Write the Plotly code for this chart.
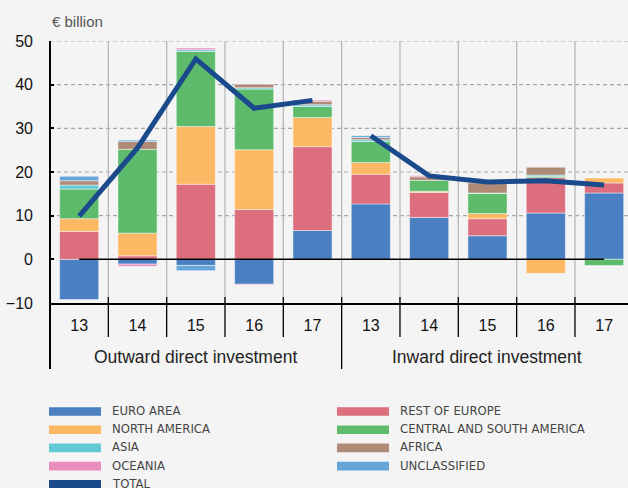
import plotly.graph_objects as go

# ---- data (€ billion) ----
years = ["13", "14", "15", "16", "17", "13", "14", "15", "16", "17"]
groups = ["Outward direct investment", "Inward direct investment"]

euro_area = [-9.2, -1.1, -1.4, -5.7, 6.6, 12.7, 9.6, 5.4, 10.6, 15.2]
rest_of_europe = [6.4, 0.8, 17.2, 11.4, 19.2, 6.8, 5.7, 3.9, 8.1, 2.3]
north_america = [2.9, 5.2, 13.2, 13.7, 6.7, 2.7, 0.3, 1.2, -3.2, 1.1]
central_south_america = [6.8, 19.2, 17.2, 13.9, 2.5, 4.8, 2.5, 4.6, 0.3, -1.45]
asia = [0.9, 0, 0.4, 0.3, 0.4, 0.4, 0, 0.1, 0.3, 0]
africa = [1.0, 1.8, 0, 0.8, 0.8, 0.5, 0.8, 2.3, 1.8, 0]
oceania = [0, -0.5, 0.4, -0.15, 0.3, 0, 0.3, 0, 0, 0]
unclassified = [1.0, 0.3, -1.2, 0, 0, 0.4, 0, 0, 0, -0.1]
total_outward = [9.9, 25.5, 45.9, 34.6, 36.4]
total_inward = [28.3, 19.1, 17.7, 18.0, 17.0]

series = [
    ("EURO AREA", euro_area, "#4a7fc1"),
    ("REST OF EUROPE", rest_of_europe, "#dc6e7e"),
    ("NORTH AMERICA", north_america, "#fdb863"),
    ("CENTRAL AND SOUTH AMERICA", central_south_america, "#5dbb6b"),
    ("ASIA", asia, "#62c8d6"),
    ("AFRICA", africa, "#ae8a77"),
    ("OCEANIA", oceania, "#e98dbd"),
    ("UNCLASSIFIED", unclassified, "#66a5d8"),
]
total_color = "#1a4a8c"

W, H = 628, 488
L, R, T, B = 50, 0, 41, 185
PW, PH = W - L - R, H - T - B


def px_x(px):
    return (px - L) / PW


def px_y(py):
    return (H - B - py) / PH


xs = list(range(len(years)))
fig = go.Figure()
for name, vals, col in series:
    fig.add_trace(go.Bar(
        x=xs, y=[v if v != 0 else None for v in vals], name=name,
        marker=dict(color=col, line=dict(color="rgba(255,255,255,0.45)", width=1)),
        width=0.67, showlegend=False,
    ))

fig.add_trace(go.Scatter(x=xs[:5], y=total_outward, mode="lines", name="TOTAL",
                         line=dict(color=total_color, width=5), showlegend=False))
fig.add_trace(go.Scatter(x=xs[5:], y=total_inward, mode="lines", name="TOTAL",
                         line=dict(color=total_color, width=5), showlegend=False))

shapes = []
# dashed horizontal gridlines
for gy in [10, 20, 30, 40, 50]:
    shapes.append(dict(type="line", xref="paper", yref="y", x0=0, x1=1, y0=gy, y1=gy,
                       line=dict(color="#a8a8a8", width=1.2, dash="4px,3px"), layer="below"))
# vertical gridlines at category boundaries
for bx in [0.5, 1.5, 2.5, 3.5, 4.5, 5.5, 6.5, 7.5, 8.5]:
    shapes.append(dict(type="line", xref="x", yref="paper", x0=bx, x1=bx, y0=0, y1=1,
                       line=dict(color="#b8b8b8", width=1.3), layer="below"))
    long = bx == 4.5
    shapes.append(dict(type="line", xref="x", yref="paper", x0=bx, x1=bx,
                       y0=px_y(297), y1=px_y(369 if long else 337),
                       line=dict(color="black", width=1.3)))
# zero line (from first to last category centre)
shapes.append(dict(type="line", xref="x", yref="y", x0=0, x1=9, y0=0, y1=0,
                   line=dict(color="black", width=1.5), layer="above"))
# y axis line with extension below
shapes.append(dict(type="line", xref="paper", yref="paper", x0=0, x1=0,
                   y0=1, y1=px_y(369), line=dict(color="black", width=2)))

annotations = [
    dict(text="€ billion", xref="paper", yref="paper", x=0, y=px_y(21), xanchor="left",
         yanchor="middle", showarrow=False, font=dict(size=15, color="#555555")),
    dict(text=groups[0], xref="x", yref="paper", x=2, y=px_y(357), xanchor="center",
         yanchor="middle", showarrow=False, font=dict(size=17.5, color="#222222")),
    dict(text=groups[1], xref="x", yref="paper", x=7, y=px_y(357), xanchor="center",
         yanchor="middle", showarrow=False, font=dict(size=17.5, color="#222222")),
]

# custom legend
legend_items = [(n, c) for n, _, c in series] + [("TOTAL", total_color)]
row_y = [411.5, 429.7, 447.9, 466.1, 484.3]
col_sw = [49, 337]
col_tx = [110, 397.5]
for i, (name, col) in enumerate(legend_items):
    r, c = i // 2, i % 2
    cy = row_y[r]
    shapes.append(dict(type="rect", xref="paper", yref="paper",
                       x0=px_x(col_sw[c]), x1=px_x(col_sw[c] + 52),
                       y0=px_y(cy - 4.3), y1=px_y(cy + 4.3),
                       fillcolor=col, line=dict(width=0)))
    annotations.append(dict(text=name, xref="paper", yref="paper", x=px_x(col_tx[c]),
                            y=px_y(cy - 1), xanchor="left", yanchor="middle", showarrow=False,
                            font=dict(size=13, color="#444444",
                                      family="DejaVu Sans Condensed, Liberation Sans Narrow, Liberation Sans, sans-serif")))

fig.update_layout(
    width=W, height=H,
    margin=dict(l=L, r=R, t=T, b=B, autoexpand=False),
    paper_bgcolor="#f4f4f4", plot_bgcolor="#f4f4f4",
    barmode="relative",
    font=dict(family="Liberation Sans, Arial, sans-serif", color="black"),
    shapes=shapes, annotations=annotations,
    showlegend=False,
    xaxis=dict(range=[-0.5, -0.5 + PW / 58.33], tickvals=xs, ticktext=years,
               showgrid=False, zeroline=False, showline=True, linecolor="black", linewidth=1.5,
               ticks="", tickfont=dict(size=16, color="#111111"), ticklabelstandoff=7,
               fixedrange=True),
    yaxis=dict(range=[-10, 50], tickvals=[-10, 0, 10, 20, 30, 40, 50],
               showgrid=False, zeroline=False, showline=False,
               ticks="inside", ticklen=4, tickwidth=1.5, tickcolor="black",
               tickfont=dict(size=16, color="#111111"), ticklabelstandoff=16,
               fixedrange=True),
)

fig.write_html("out.html", config={"displayModeBar": False},
               post_script="document.body.style.margin='0';document.body.style.background='#f4f4f4';")
